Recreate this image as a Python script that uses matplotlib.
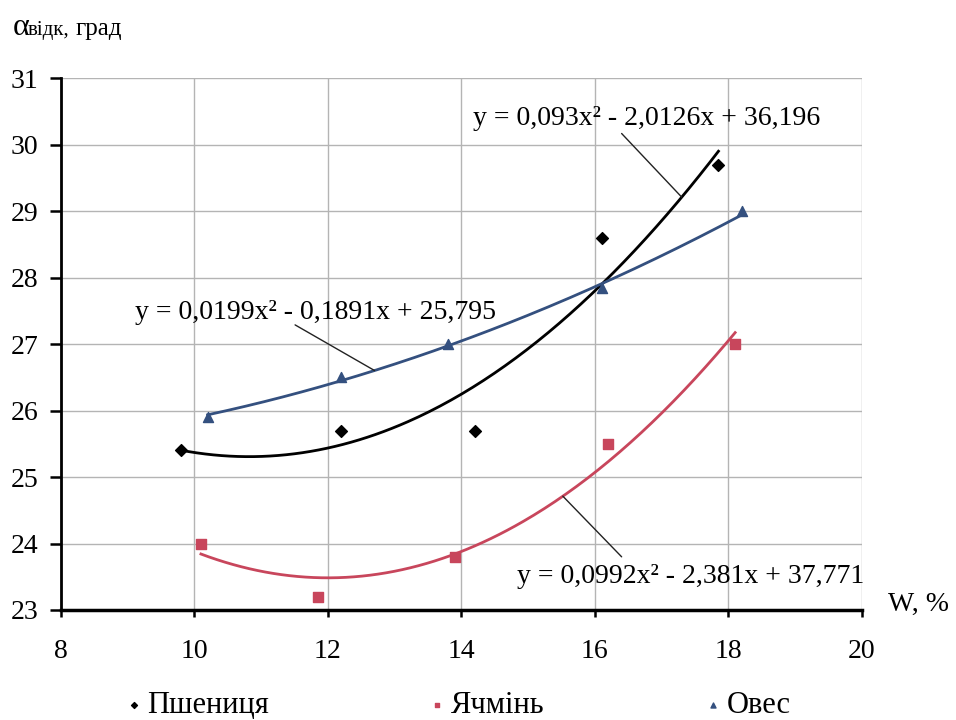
import numpy as np
import matplotlib
matplotlib.use("Agg")
import matplotlib.pyplot as plt

plt.rcParams["font.family"] = ["Liberation Serif", "DejaVu Serif"]

# measured points: moisture W, % and angle, degrees
wheat_w = [9.8, 12.2, 14.2, 16.1, 17.85]
wheat_a = [25.4, 25.7, 25.7, 28.6, 29.7]
barley_w = [10.1, 11.85, 13.9, 16.2, 18.1]
barley_a = [24.0, 23.2, 23.8, 25.5, 27.0]
oats_w = [10.2, 12.2, 13.8, 16.1, 18.2]
oats_a = [25.9, 26.5, 27.0, 27.85, 29.0]

# second order trend coefficients (a, b, c)
wheat_fit = [0.093, -2.0126, 36.196]
barley_fit = [0.0992, -2.381, 37.771]
oats_fit = [0.0199, -0.1891, 25.795]

x_ticks = [8, 10, 12, 14, 16, 18, 20]
y_ticks = [23, 24, 25, 26, 27, 28, 29, 30, 31]

BLACK = "#000000"
RED = "#c8465c"
BLUE = "#34507f"


def fit_label(coefs):
    a, b, c = coefs
    sign = "-" if b < 0 else "+"
    fmt = lambda v: f"{v:g}".replace(".", ",")
    return f"y = {fmt(a)}x² {sign} {fmt(abs(b))}x + {fmt(c)}"


def trend(ax, xs, coefs, color):
    grid = np.linspace(min(xs), max(xs), 200)
    ax.plot(grid, np.polyval(coefs, grid), color=color, lw=2.0, zorder=3)


fig = plt.figure(figsize=(9.56, 7.2), dpi=100)
ax = fig.add_axes([0.0635, 0.1528, 0.8382, 0.7384])

trend(ax, wheat_w, wheat_fit, BLACK)
trend(ax, barley_w, barley_fit, RED)
trend(ax, oats_w, oats_fit, BLUE)

ax.scatter(wheat_w, wheat_a, marker="D", s=36, color=BLACK, zorder=4, label="Пшениця")
ax.scatter(barley_w, barley_a, marker="s", s=44, color=RED, zorder=4, label="Ячмінь")
ax.scatter(oats_w, oats_a, marker="^", s=52, color=BLUE, zorder=4, label="Овес")

# equation labels with leader lines to the curves
labels = [
    (wheat_fit, (14.17, 30.40), (16.40, 30.17), 17.3),
    (oats_fit, (9.12, 27.47), (11.51, 27.29), 12.7),
    (barley_fit, (14.83, 23.50), (16.40, 23.80), 15.52),
]
for coefs, text_pos, start, x_end in labels:
    ax.text(text_pos[0], text_pos[1], fit_label(coefs), fontsize=20,
            ha="left", va="center", zorder=5)
    ax.annotate("", xy=(x_end, np.polyval(coefs, x_end)), xytext=start,
                arrowprops=dict(arrowstyle="-", color="#222222", lw=1.0,
                                shrinkA=0, shrinkB=0), zorder=5)

ax.set_xlim(8, 20)
ax.set_ylim(23, 31)
ax.set_xticks(x_ticks)
ax.set_yticks(y_ticks)
ax.grid(True, color="#b4b4b4", lw=1.0)
ax.set_axisbelow(True)
for side in ("top", "right"):
    ax.spines[side].set_visible(False)
ax.spines["left"].set_linewidth(2.0)
ax.spines["bottom"].set_linewidth(2.5)
ax.tick_params(axis="x", direction="out", length=5, width=1.8, labelsize=20, pad=16)
ax.tick_params(axis="y", direction="out", length=8, width=1.8, labelsize=20, pad=8)

ax.text(1.032, 0.01, "W, %", transform=ax.transAxes, fontsize=20,
        ha="left", va="center")

fig.text(0.0136, 0.951, "α", fontsize=23, ha="left", va="baseline")
fig.text(0.0290, 0.951, "відк,", fontsize=15, ha="left", va="baseline")
fig.text(0.0785, 0.951, "град", fontsize=18, ha="left", va="baseline")

ax.legend(loc="upper center", bbox_to_anchor=(0.495, -0.100), ncol=3,
          frameon=False, fontsize=22, markerscale=0.5, handletextpad=0.15,
          columnspacing=5.2, handlelength=0.6)

fig.savefig("out.png", dpi=100)
